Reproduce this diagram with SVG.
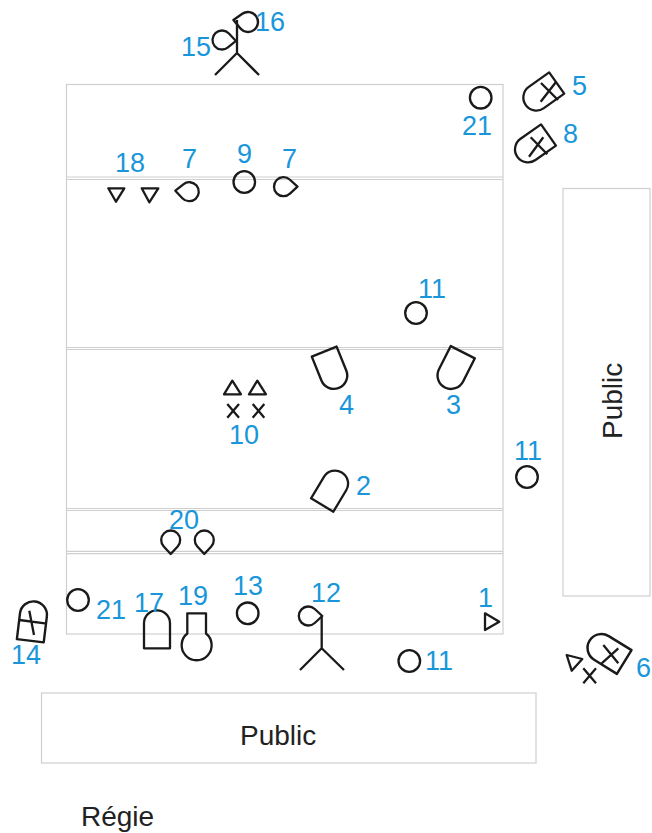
<svg xmlns="http://www.w3.org/2000/svg" width="652" height="833" viewBox="0 0 652 833">
<style>
.st{fill:none;stroke:#cfcfcf;stroke-width:1.2}
.s{fill:none;stroke:#1a1a1a;stroke-width:2.3;stroke-linejoin:round}
.n{font-family:"Liberation Sans",Arial,sans-serif;font-size:27px;fill:#1996da}
.t{font-family:"Liberation Sans",Arial,sans-serif;font-size:28px;fill:#222}
</style>
<defs>
<path id="spot" d="M-13 0H13V25A13 13 0 0 1-13 25Z"/>
<path id="drop" d="M14 0L6.45-6.98A9.5 9.5 0 1 0 6.45 6.98Z"/>
</defs>
<rect width="652" height="833" fill="#fff"/>
<g id="stage" class="st">
<rect x="66.5" y="84.5" width="436.5" height="549.5"/>
<path d="M66.5 177H503M66.5 179.5H503M66.5 347.5H503M66.5 349.5H503M66.5 508.5H503M66.5 510.5H503M66.5 551.3H503M66.5 553.7H503"/>
<rect x="563" y="188.5" width="87" height="407.5"/>
<rect x="41.5" y="693" width="494.5" height="70"/>
</g>
<g id="figure-15-16" class="s">
<path d="M237 20V53L215 75M237 53L259 75"/>
<use href="#drop" transform="translate(222 40) rotate(4)"/>
<use href="#drop" transform="translate(248 22) rotate(188) scale(1.05)"/>
</g>
<g id="figure-12" class="s">
<path d="M321.7 616V648.3L300 670M321.7 648.3L344 670"/>
<use href="#drop" transform="translate(308.3 616)"/>
</g>
<g id="spot-2" class="s"><use href="#spot" transform="translate(322.2 505) rotate(211)"/></g>
<g id="spot-3" class="s"><use href="#spot" transform="translate(462.8 352.2) rotate(26.9) scale(1.04)"/></g>
<g id="spot-4" class="s"><use href="#spot" transform="translate(324.2 351.6) rotate(-22) scale(1.03)"/></g>
<g id="spot-17" class="s"><use href="#spot" transform="translate(157 648.3) rotate(180)"/></g>
<g id="spot-14" class="s"><use href="#spot" transform="translate(30.3 640.7) rotate(186.9) scale(1.04)"/><path d="M19.3 620L45 623.3M29.3 610.7L34 635"/></g>
<g id="spot-5" class="s"><use href="#spot" transform="translate(556.7 83) rotate(54.5)"/><path d="M540.7 101.7L556 82M541 83L558 100"/></g>
<g id="spot-8" class="s"><use href="#spot" transform="translate(548.5 135) rotate(55)"/><path d="M529 156.7L543.3 137.3M530.7 137.3L547.3 154.3"/></g>
<g id="spot-6" class="s"><use href="#spot" transform="translate(624.2 662) rotate(121.7) scale(1.07)"/><path d="M603.3 645L618.3 663.3M601.7 663.3L618.3 648.3"/></g>
<g id="lamp-19" class="s"><path d="M187.3 633.5V613.3H206V633.5A15 15 0 1 1 187.3 633.5Z"/></g>
<g id="circles" class="s">
<circle cx="480.7" cy="97.7" r="10.8"/>
<circle cx="244.3" cy="182" r="10.8"/>
<circle cx="416" cy="313" r="10.8"/>
<circle cx="527" cy="477" r="10.8"/>
<circle cx="78" cy="600" r="10.8"/>
<circle cx="247.7" cy="613.3" r="10.8"/>
<circle cx="409.3" cy="661" r="10.8"/>
</g>
<g id="drops" class="s">
<use href="#drop" transform="translate(189.3 191.7) rotate(184)"/>
<use href="#drop" transform="translate(283.5 186.7)"/>
<use href="#drop" transform="translate(170.7 540) rotate(90)"/>
<use href="#drop" transform="translate(204.3 540) rotate(90)"/>
</g>
<g id="triangles" class="s">
<path d="M108.3 188.3H124.3L116 201.7Z"/>
<path d="M141.7 188.3H158.3L149.3 202.3Z"/>
<path d="M224 394.3H241L232.3 380.7Z"/>
<path d="M249 394.3H266L257.3 380.7Z"/>
<path d="M485 613.3L499.3 621.7L485 630Z"/>
<path d="M566.7 655L582.3 659L571.7 670.7Z"/>
</g>
<g id="crosses" class="s">
<path d="M227.3 404L239 417.7M239 404L227.3 417.7"/>
<path d="M252.7 404L264.3 417.7M264.3 404L252.7 417.7"/>
<path d="M583.3 668.3L596 683.3M596 668.3L583.3 683.3"/>
</g>
<g id="labels" class="n">
<text x="181" y="56">15</text>
<text x="255" y="31">16</text>
<text x="572" y="95">5</text>
<text x="462" y="135">21</text>
<text x="563" y="143">8</text>
<text x="115" y="172">18</text>
<text x="182" y="168">7</text>
<text x="237" y="163">9</text>
<text x="282" y="168">7</text>
<text x="418" y="298">11</text>
<text x="339" y="414">4</text>
<text x="446" y="414">3</text>
<text x="229" y="444">10</text>
<text x="514" y="460">11</text>
<text x="356" y="495">2</text>
<text x="169" y="529">20</text>
<text x="11" y="664">14</text>
<text x="96" y="619">21</text>
<text x="134" y="612">17</text>
<text x="178" y="605">19</text>
<text x="233" y="595">13</text>
<text x="311" y="602">12</text>
<text x="425" y="670">11</text>
<text x="478" y="607">1</text>
<text x="636" y="677">6</text>
</g>
<g id="texts" class="t">
<text x="240" y="745">Public</text>
<text x="81" y="826">Régie</text>
<text transform="translate(622 439) rotate(-90)">Public</text>
</g>
</svg>
